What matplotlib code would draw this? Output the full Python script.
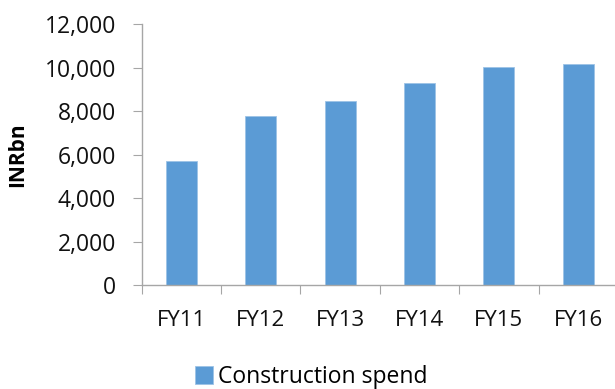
import matplotlib
matplotlib.use("Agg")
import matplotlib.pyplot as plt
from matplotlib.ticker import FuncFormatter

# data
years = ["FY11", "FY12", "FY13", "FY14", "FY15", "FY16"]
spend = [5690, 7760, 8450, 9290, 10010, 10150]

plt.rcParams['font.family'] = ['Open Sans', 'DejaVu Sans']

fig = plt.figure(figsize=(6.15, 3.89), dpi=100)
W, H = 615, 389
left, right, top, bottom = 141.7, 618, 24, 285.3
ax = fig.add_axes([left / W, 1 - bottom / H, (right - left) / W, (bottom - top) / H])

ax.bar(range(len(years)), spend, width=0.39, color="#5B9BD5", edgecolor="#9DC3E6", linewidth=0.6,
       label="Construction spend")

ax.set_xlim(-0.5, len(years) - 0.5)
ax.set_ylim(0, 12000)
ax.set_yticks(range(0, 12001, 2000))
ax.yaxis.set_major_formatter(FuncFormatter(lambda v, p: f"{int(v):,}"))
# category separators as major ticks, names on minor ticks
ax.set_xticks([i - 0.5 for i in range(len(years))])
ax.set_xticklabels([])
ax.set_xticks(range(len(years)), minor=True)
ax.set_xticklabels(years, minor=True)

for s in ["top", "right"]:
    ax.spines[s].set_visible(False)
for s in ["left", "bottom"]:
    ax.spines[s].set_color("#A6A6A6")
    ax.spines[s].set_linewidth(1)

ax.tick_params(axis="y", length=6.5, color="#A6A6A6", labelsize=16.5, pad=12, labelcolor="#111111")
ax.tick_params(axis="x", which="major", length=6.5, color="#A6A6A6", direction="out")
ax.tick_params(axis="x", which="minor", length=0, labelsize=16, pad=18, labelcolor="#111111")

ax.set_ylabel("INRbn", fontsize=15, fontweight="bold")
ax.yaxis.set_label_coords((28 - left) / (right - left), 0.5)

fig.legend(loc="center", bbox_to_anchor=(311 / W, 1 - 377 / H), frameon=False,
           fontsize=16.5, handlelength=0.8, handleheight=0.8, handletextpad=0.2,
           borderpad=0)

fig.savefig("out.png", dpi=100)
